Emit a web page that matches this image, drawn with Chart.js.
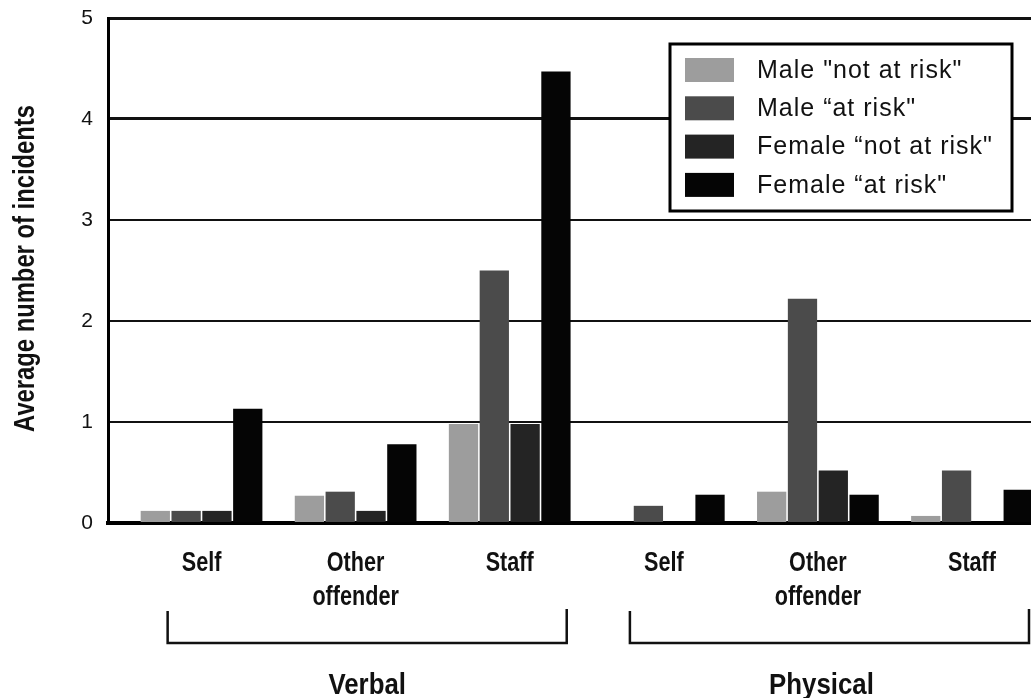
<!DOCTYPE html>
<html>
<head>
<meta charset="utf-8">
<script src="https://cdn.jsdelivr.net/npm/chart.js@4.4.1/dist/chart.umd.min.js"></script>
<style>
  html, body { margin: 0; padding: 0; background: #fff; overflow: hidden; }
  #wrap { width: 1031px; height: 698px; }
</style>
</head>
<body>
<div id="wrap"><canvas id="chart"></canvas></div>
<script>
// ---- data ----
const categories = ["Self", "Other offender", "Staff", "Self", "Other offender", "Staff"];
const groups = ["Verbal", "Physical"];
const groupSize = 3;
const seriesNames = ['Male "not at risk"', 'Male \u201cat risk"', 'Female \u201cnot at risk"', 'Female \u201cat risk"'];
const maleNotAtRisk   = [0.12, 0.27, 0.98, 0,    0.31, 0.07];
const maleAtRisk      = [0.12, 0.31, 2.50, 0.17, 2.22, 0.52];
const femaleNotAtRisk = [0.12, 0.12, 0.98, 0,    0.52, 0];
const femaleAtRisk    = [1.13, 0.78, 4.47, 0.28, 0.28, 0.33];
const yTicks = [0, 1, 2, 3, 4, 5];
const yTitle = "Average number of incidents";

const colors = ["#9d9d9d", "#4b4b4b", "#242424", "#050505"];
const SANS = '"Liberation Sans", Arial, sans-serif';
const SQUEEZE = 0.8; // the original type is a condensed face

const allSeries = [maleNotAtRisk, maleAtRisk, femaleNotAtRisk, femaleAtRisk];

function squeezedText(ctx, text, x, y, sx, rot) {
  ctx.save();
  ctx.translate(x, y);
  if (rot) ctx.rotate(rot);
  ctx.scale(sx, 1);
  ctx.fillText(text, 0, 0);
  ctx.restore();
}

/* ================= labels, brackets and legend box ================= */
const overlay = {
  id: "overlay",
  afterDraw(chart) {
    const ctx = chart.ctx;
    const xs = chart.scales.x;
    const ys = chart.scales.y;
    ctx.save();
    ctx.fillStyle = "#111";
    ctx.textAlign = "center";
    ctx.textBaseline = "middle";

    // y axis title
    ctx.font = "bold 29px " + SANS;
    squeezedText(ctx, yTitle, 26, (ys.top + ys.bottom) / 2 - 2, 0.82, -Math.PI / 2);

    // category labels
    ctx.font = "bold 27px " + SANS;
    categories.forEach((c, i) => {
      const px = xs.getPixelForValue(i);
      c.split(" ").forEach((line, li) => {
        squeezedText(ctx, line, px, xs.top + 41 + li * 34, SQUEEZE, 0);
      });
    });

    // group brackets under the tick labels
    ctx.strokeStyle = "#111";
    ctx.lineWidth = 2.5;
    groups.forEach((g, gi) => {
      const first = gi * groupSize;
      const last = first + groupSize - 1;
      const l = xs.getPixelForValue(first - 0.22);
      const r = xs.getPixelForValue(last + 0.37);
      ctx.beginPath();
      ctx.moveTo(l, 611);
      ctx.lineTo(l, 643);
      ctx.lineTo(r, 643);
      ctx.lineTo(r, 609);
      ctx.stroke();

      ctx.font = "bold 30px " + SANS;
      squeezedText(ctx, g, (l + r) / 2 - gi * 8, 686, 0.86, 0);
    });

    // legend
    const bx = 670, by = 44, bw = 342, bh = 167;
    ctx.fillStyle = "#fff";
    ctx.fillRect(bx, by, bw, bh);
    ctx.lineWidth = 3;
    ctx.strokeStyle = "#000";
    ctx.strokeRect(bx, by, bw, bh);
    ctx.font = "25px " + SANS;
    ctx.letterSpacing = "1px";
    ctx.textAlign = "left";
    seriesNames.forEach((name, i) => {
      const cy = 70 + i * 38.3;
      ctx.fillStyle = colors[i];
      ctx.fillRect(685, cy - 12, 49, 24);
      ctx.fillStyle = "#111";
      ctx.fillText(name, 757, cy + 1);
    });
    ctx.restore();
  }
};

const datasets = allSeries.map((vals, si) => ({
  label: seriesNames[si],
  data: vals.map((v, i) => ({ x: i, y: v })),
  backgroundColor: colors[si],
  borderWidth: 0,
  categoryPercentage: 0.8,
  barPercentage: 0.95
}));

new Chart(document.getElementById("chart"), {
  type: "bar",
  data: { datasets: datasets },
  plugins: [overlay],
  options: {
    responsive: true,
    maintainAspectRatio: false,
    animation: false,
    layout: { padding: { top: 18, right: 0, bottom: 0, left: 0 } },
    plugins: {
      legend: { display: false },
      tooltip: { enabled: false }
    },
    scales: {
      x: {
        type: "linear",
        offset: false,
        min: -0.607,
        max: 5.383,
        afterFit: (s) => { s.height = 175; s.paddingLeft = 0; s.paddingRight = 0; },
        grid: { display: false, offset: false, drawTicks: false },
        border: { display: true, color: "#000", width: 4 },
        ticks: { display: false, stepSize: 1, includeBounds: false }
      },
      y: {
        min: 0,
        max: 5,
        afterFit: (s) => { s.width = 108; s.paddingTop = 0; s.paddingBottom = 0; },
        afterBuildTicks: (s) => { s.ticks = yTicks.map(v => ({ value: v })); },
        grid: {
          color: "#111",
          drawTicks: false,
          lineWidth: (c) => (c.tick && (c.tick.value === 4 || c.tick.value === 5) ? 3 : 2)
        },
        border: { display: true, color: "#000", width: 3 },
        ticks: {
          padding: 15,
          color: "#111",
          font: { family: SANS, size: 21 }
        },
        title: { display: false, text: yTitle }
      }
    }
  }
});
</script>
</body>
</html>
